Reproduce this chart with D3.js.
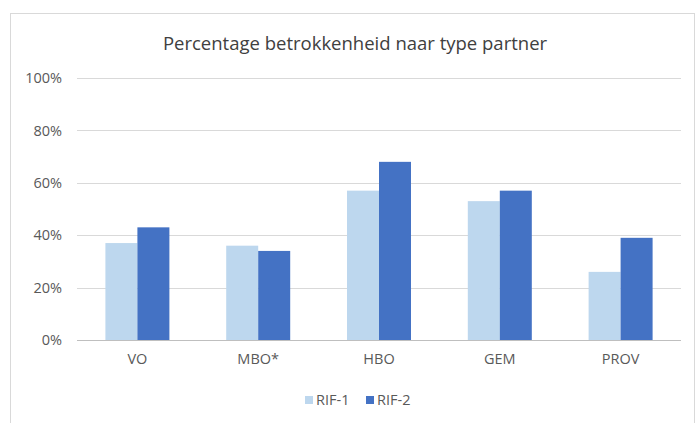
<!DOCTYPE html>
<html>
<head>
<meta charset="utf-8">
<script src="https://cdn.jsdelivr.net/npm/d3@7"></script>
<style>
  body { margin: 0; background: #fff; }
  text { font-family: "Open Sans", "Liberation Sans", sans-serif; }
</style>
</head>
<body>
<div class="chart"></div>
<script>
const categories = ["VO", "MBO*", "HBO", "GEM", "PROV"];
const seriesNames = ["RIF-1", "RIF-2"];
const rif1 = [37, 36, 57, 53, 26];
const rif2 = [43, 34, 68, 57, 39];
const yTicks = [0, 20, 40, 60, 80, 100];

const colors = ["#bdd7ee", "#4472c4"];

const W = 698, H = 423;
const margin = { top: 78, right: 17, bottom: 83, left: 77 },
      width = W - margin.left - margin.right,
      height = H - margin.top - margin.bottom;

let root = d3.select(".chart").append("svg")
  .attr("width", W)
  .attr("height", H);

// chart frame
root.append("rect")
  .attr("x", 10.5).attr("y", 13.5)
  .attr("width", 684).attr("height", 420)
  .attr("fill", "#fff")
  .attr("stroke", "#d9d9d9");

root.append("text")
  .attr("x", 355).attr("y", 50)
  .attr("text-anchor", "middle")
  .attr("font-size", 18.5)
  .attr("fill", "#404040")
  .text("Percentage betrokkenheid naar type partner");

let svg = root.append("g")
  .attr("transform", "translate(" + margin.left + "," + margin.top + ")");

let x = d3.scaleBand().domain(categories).range([0, width]);
let x1 = d3.scaleBand().domain(seriesNames)
  .range([x.bandwidth() / 2 - 32, x.bandwidth() / 2 + 32]);
let y = d3.scaleLinear().domain([0, 100]).range([height, 0]);

// gridlines
svg.append("g")
  .selectAll("line")
  .data(yTicks)
  .enter().append("line")
    .attr("x1", 0).attr("x2", width)
    .attr("y1", (d) => Math.round(y(d)) + 0.5)
    .attr("y2", (d) => Math.round(y(d)) + 0.5)
    .attr("stroke", (d) => d === 0 ? "#bfbfbf" : "#d9d9d9");

// y labels
let yAxis = svg.append("g")
  .call(d3.axisLeft(y).tickValues(yTicks).tickSize(0).tickPadding(15)
    .tickFormat((d) => d + "%"));
yAxis.select(".domain").remove();
yAxis.selectAll("text")
  .attr("font-family", "'Open Sans', 'Liberation Sans', sans-serif")
  .attr("font-size", 14.5).attr("fill", "#595959");

// bars
const rows = categories.map((c, i) => ({ cat: c, vals: [rif1[i], rif2[i]] }));
let groups = svg.selectAll(".grp")
  .data(rows)
  .enter().append("g")
    .attr("class", "grp")
    .attr("transform", (d) => "translate(" + x(d.cat) + ",0)");

groups.selectAll("rect")
  .data((d) => d.vals.map((v, j) => ({ name: seriesNames[j], v: v, j: j })))
  .enter().append("rect")
    .attr("x", (d) => x1(d.name))
    .attr("width", x1.bandwidth())
    .attr("y", (d) => y(d.v))
    .attr("height", (d) => height - y(d.v))
    .attr("fill", (d) => colors[d.j]);

// x labels
let xAxis = svg.append("g")
  .attr("transform", "translate(0," + height + ")")
  .call(d3.axisBottom(x).tickSize(0).tickPadding(14));
xAxis.select(".domain").remove();
xAxis.selectAll("text")
  .attr("font-family", "'Open Sans', 'Liberation Sans', sans-serif")
  .attr("font-size", 14.5).attr("fill", "#595959");

// legend
let legend = root.append("g").attr("transform", "translate(305,400)");
let item = legend.selectAll("g")
  .data(seriesNames)
  .enter().append("g")
    .attr("transform", (d, i) => "translate(" + (i * 61) + ",0)");
item.append("rect")
  .attr("x", 0).attr("y", -4)
  .attr("width", 8).attr("height", 8)
  .attr("fill", (d, i) => colors[i]);
item.append("text")
  .attr("x", 11).attr("y", 5)
  .attr("font-size", 14.5).attr("fill", "#595959")
  .text((d) => d);
</script>
</body>
</html>
